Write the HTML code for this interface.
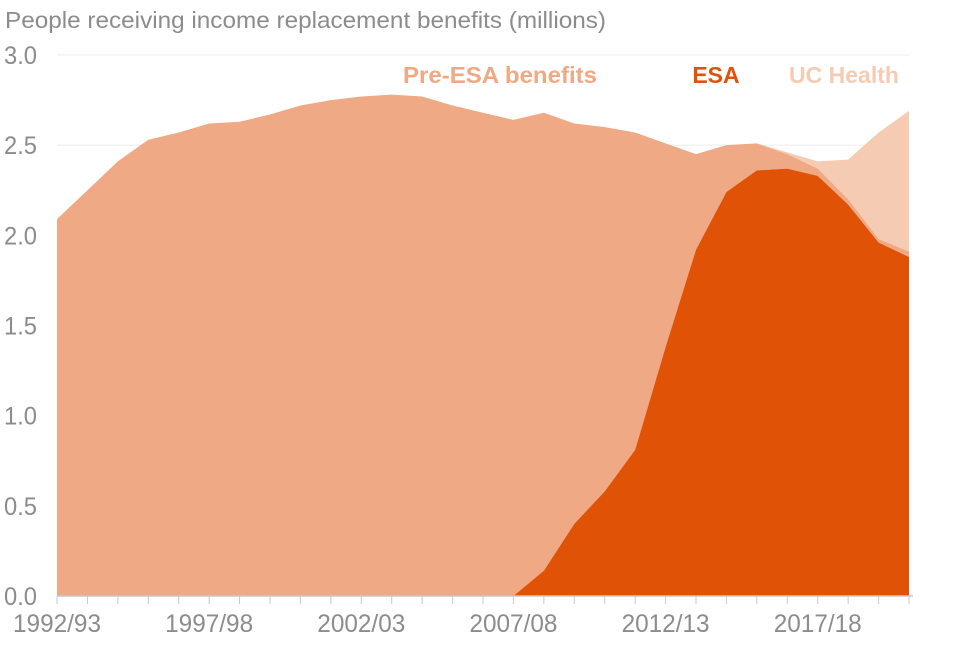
<!DOCTYPE html>
<html><head><meta charset="utf-8"><style>
body{margin:0;background:#fff;font-family:"Liberation Sans",sans-serif}
svg text{font-family:"Liberation Sans",sans-serif}
</style></head><body>
<svg id="c" width="960" height="640">
<text x="5" y="28" font-size="23" fill="#8c8c8c" textLength="601" lengthAdjust="spacingAndGlyphs">People receiving income replacement benefits (millions)</text>
<g id="grid"></g><g id="areas"></g><g id="axes"></g>
<text x="500" y="83" font-size="23" font-weight="bold" fill="#EFA984" text-anchor="middle" textLength="194" lengthAdjust="spacingAndGlyphs">Pre-ESA benefits</text>
<text x="716" y="83" font-size="23" font-weight="bold" fill="#E05206" text-anchor="middle">ESA</text>
<text x="844" y="83" font-size="23" font-weight="bold" fill="#F5CBB4" text-anchor="middle">UC Health</text>
</svg>
<script>
const years=["1992/93","1993/94","1994/95","1995/96","1996/97","1997/98","1998/99","1999/00","2000/01","2001/02","2002/03","2003/04","2004/05","2005/06","2006/07","2007/08","2008/09","2009/10","2010/11","2011/12","2012/13","2013/14","2014/15","2015/16","2016/17","2017/18","2018/19","2019/20","2020/21"];
const esa=[0,0,0,0,0,0,0,0,0,0,0,0,0,0,0,0,0.14,0.40,0.58,0.81,1.38,1.92,2.24,2.36,2.37,2.33,2.17,1.96,1.88];
const preEsa=[2.09,2.25,2.41,2.53,2.57,2.62,2.63,2.67,2.72,2.75,2.77,2.78,2.77,2.72,2.68,2.64,2.54,2.22,2.02,1.76,1.13,0.53,0.26,0.15,0.08,0.04,0.03,0.02,0.03];
const ucHealth=[0,0,0,0,0,0,0,0,0,0,0,0,0,0,0,0,0,0,0,0,0,0,0,0,0.01,0.04,0.22,0.59,0.78];
const yTicks=[0,0.5,1.0,1.5,2.0,2.5,3.0];
const NS="http://www.w3.org/2000/svg";
const x0=57,x1=909,yb=596,yt=55;
const X=i=>x0+(x1-x0)*i/(years.length-1);
const Y=v=>yb-(yb-yt)*v/3;
function mk(t,p,a){const e=document.createElementNS(NS,t);for(const k in a)e.setAttribute(k,a[k]);p.appendChild(e);return e;}
const grid=document.getElementById('grid'),areas=document.getElementById('areas'),axes=document.getElementById('axes');
yTicks.forEach(v=>{
 const l=mk('line',grid,{x1:x0,x2:x1,y1:Y(v),y2:Y(v),stroke:'#ececec','stroke-width':1});
 
 
 const t=mk('text',axes,{x:37,y:Y(v)+9,'font-size':25,fill:'#8c8c8c','text-anchor':'end',textLength:33,lengthAdjust:'spacingAndGlyphs'});
 t.textContent=v.toFixed(1);
 
 
});
function band(lo,hi,col,name){
 let d='';
 for(let i=0;i<years.length;i++)d+=(i?'L':'M')+X(i)+','+Y(hi[i]);
 for(let i=years.length-1;i>=0;i--)d+='L'+X(i)+','+Y(lo[i]);
 const p=mk('path',areas,{d:d+'Z',fill:col});
 
 
}
const z=years.map(()=>0);
const s1=esa.map((v,i)=>v+preEsa[i]);
const s2=s1.map((v,i)=>v+ucHealth[i]);
band(s1,s2,'#F5CBB4','area-uc-health');
band(esa,s1,'#EFA984','area-pre-esa');
band(z,esa,'#E05206','area-esa');
const ax=mk('line',axes,{x1:x0,x2:x1+4,y1:yb,y2:yb,stroke:'#c8c8c8','stroke-width':1.5});


years.forEach((yr,i)=>{
 const tk=mk('line',axes,{x1:X(i),x2:X(i),y1:yb,y2:yb+8,stroke:'#c8c8c8','stroke-width':1});
 
 
 if(i%5===0){
  const t=mk('text',axes,{x:X(i),y:632,'font-size':25,fill:'#8c8c8c','text-anchor':'middle',textLength:88,lengthAdjust:'spacingAndGlyphs'});
  t.textContent=yr;
  
  
 }
});
</script>
</body></html>
